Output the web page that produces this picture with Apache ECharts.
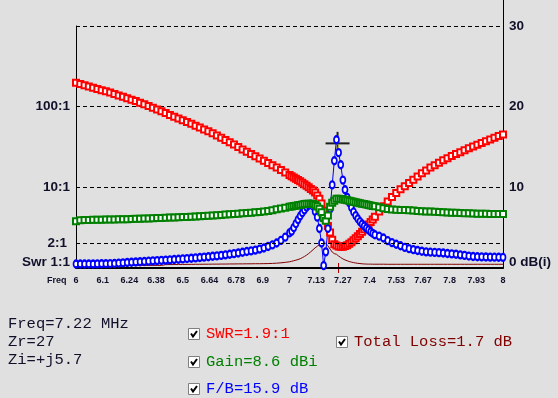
<!DOCTYPE html>
<html><head><meta charset="utf-8">
<script src="https://cdn.jsdelivr.net/npm/echarts@6/dist/echarts.min.js"></script>
<style>html,body{margin:0;padding:0;background:#e0e0e0;}#c{width:558px;height:398px;}</style>
</head><body><div id="c"></div>
<script>
// Frequency samples (MHz)
const freq = [
 6.00,6.02,6.04,6.06,6.08,6.10,6.12,6.14,6.16,6.18,
 6.20,6.22,6.24,6.26,6.28,6.30,6.32,6.34,6.36,6.38,
 6.40,6.42,6.44,6.46,6.48,6.50,6.52,6.54,6.56,6.58,
 6.60,6.62,6.64,6.66,6.68,6.70,6.72,6.74,6.76,6.78,
 6.80,6.82,6.84,6.86,6.88,6.90,6.92,6.94,6.96,6.98,
 7.00,
 7.01,7.02,7.03,7.04,7.05,7.06,7.07,7.08,7.09,7.10,
 7.11,7.12,7.13,7.14,7.15,7.16,7.17,7.18,7.19,7.20,
 7.21,7.22,7.23,7.24,7.25,7.26,7.27,7.28,7.29,7.30,
 7.31,7.32,7.33,7.34,7.35,7.36,7.37,7.38,7.39,7.40,
 7.42,7.44,7.46,7.48,7.50,7.52,7.54,7.56,7.58,7.60,
 7.62,7.64,7.66,7.68,7.70,7.72,7.74,7.76,7.78,7.80,
 7.82,7.84,7.86,7.88,7.90,7.92,7.94,7.96,7.98,8.00
];
// SWR (ratio : 1)
const swr = [
 198.2,190.5,184.1,177.8,171.8,166.0,160.3,154.9,149.6,143.6,
 138.0,132.4,127.4,122.2,117.5,112.2,107.2,101.9,96.8,92.0,
 87.5,83.2,79.1,75.2,71.5,67.9,64.6,61.2,58.1,55.1,
 52.2,49.5,46.8,43.9,41.1,38.5,36.1,33.9,31.6,29.5,
 27.7,25.9,24.3,22.8,21.4,20.0,18.8,17.6,16.4,15.3,
 14.2,
 13.74,13.24,12.76,12.30,11.86,11.38,10.91,10.47,10.0,9.55,
 9.12,8.61,7.94,7.24,6.31,5.13,4.07,3.31,2.75,2.24,
 1.97,1.90,1.85,1.83,1.84,1.87,1.92,2.0,2.09,2.21,
 2.34,2.48,2.63,2.82,3.02,3.24,3.47,3.72,3.98,4.32,
 5.01,5.82,6.68,7.59,8.51,9.44,10.35,11.35,12.45,13.65,
 14.96,16.22,17.58,18.84,20.18,21.63,23.01,24.43,25.82,27.29,
 28.84,30.41,31.99,33.65,35.40,37.15,39.08,41.11,43.15,45.29
];
// Gain (dBi)
const gain = [
 5.8,5.93,5.95,5.96,5.97,5.98,5.99,6.0,6.01,6.02,
 6.03,6.04,6.05,6.07,6.09,6.11,6.13,6.15,6.17,6.19,
 6.21,6.23,6.25,6.27,6.29,6.31,6.33,6.35,6.38,6.41,
 6.44,6.47,6.5,6.54,6.58,6.62,6.66,6.7,6.74,6.78,
 6.82,6.86,6.9,6.95,7.0,7.07,7.17,7.27,7.37,7.48,
 7.58,
 7.62,7.68,7.72,7.77,7.82,7.87,7.92,7.96,7.98,7.98,
 7.92,7.8,7.62,7.35,6.9,6.2,5.85,6.5,7.6,8.1,
 8.35,8.6,8.6,8.56,8.5,8.45,8.4,8.33,8.26,8.2,
 8.14,8.08,8.03,7.98,7.93,7.88,7.82,7.76,7.7,7.64,
 7.52,7.42,7.32,7.26,7.22,7.2,7.18,7.15,7.12,7.08,
 7.04,7.01,6.99,6.97,6.94,6.91,6.88,6.86,6.84,6.82,
 6.8,6.78,6.76,6.74,6.72,6.71,6.7,6.7,6.7,6.7
];
// Front/back ratio (dB)
const fb = [
 0.5,0.5,0.5,0.5,0.5,0.51,0.52,0.53,0.54,0.56,
 0.6,0.64,0.68,0.72,0.75,0.78,0.81,0.85,0.89,0.92,
 0.95,0.98,1.01,1.05,1.09,1.13,1.17,1.21,1.25,1.3,
 1.35,1.4,1.45,1.5,1.56,1.63,1.7,1.78,1.86,1.95,
 2.04,2.12,2.22,2.34,2.48,2.66,2.86,3.1,3.42,3.82,
 4.35,
 4.55,5.0,5.5,6.0,6.45,6.85,7.2,7.55,7.8,7.9,
 7.7,7.0,6.3,4.9,3.1,0.3,2.0,4.9,7.3,10.3,
 13.3,15.9,14.3,12.8,10.9,9.7,8.75,8.1,7.5,6.95,
 6.5,6.1,5.75,5.45,5.2,4.95,4.72,4.5,4.3,4.12,
 3.95,3.72,3.4,3.15,2.95,2.76,2.55,2.4,2.28,2.17,
 2.07,2.0,1.96,1.93,1.9,1.86,1.8,1.75,1.7,1.63,
 1.56,1.48,1.42,1.4,1.38,1.36,1.35,1.34,1.33,1.32
];
// Total loss (dB)
const loss = [
 0.32,0.32,0.32,0.32,0.32,0.32,0.32,0.32,0.32,0.32,
 0.32,0.32,0.32,0.32,0.32,0.32,0.32,0.32,0.32,0.32,
 0.32,0.42,0.43,0.43,0.44,0.44,0.45,0.45,0.46,0.46,
 0.47,0.47,0.48,0.48,0.49,0.49,0.5,0.5,0.51,0.51,
 0.52,0.52,0.53,0.53,0.54,0.55,0.57,0.6,0.64,0.7,
 0.77,
 0.83,0.9,0.97,1.05,1.15,1.28,1.43,1.6,1.8,2.02,
 2.26,2.5,2.7,2.9,3.05,3.13,3.05,2.75,2.35,1.98,
 1.78,1.7,1.48,1.3,1.13,1.0,0.9,0.8,0.73,0.67,
 0.62,0.58,0.55,0.52,0.5,0.49,0.48,0.48,0.47,0.47,
 0.47,0.47,0.46,0.46,0.46,0.46,0.46,0.46,0.46,0.46,
 0.46,0.46,0.46,0.46,0.46,0.46,0.46,0.46,0.46,0.46,
 0.46,0.46,0.46,0.46,0.46,0.46,0.46,0.46,0.46,0.46
];
const xTickLabels = ['6','6.1','6.24','6.38','6.5','6.64','6.78','6.9','7','7.13','7.27','7.4','7.53','7.67','7.8','7.93','8'];
const swrTickLabels = {1:'Swr 1:1', 10:'10:1', 100:'100:1'};
const swrRefLine = 2;
const dbTickLabels = {0:'0 dB(i)', 10:'10', 20:'20', 30:'30'};
const cursorFreq = 7.22;
const cursorMark = [7.225, 15.45];
const readLeft = ['Freq=7.22 MHz','Zr=27','Zi=+j5.7'];
const readSwr = 'SWR=1.9:1', readGain = 'Gain=8.6 dBi', readFb = 'F/B=15.9 dB', readLoss = 'Total Loss=1.7 dB';

const ink = '#10102a';
const chart = echarts.init(document.getElementById('c'));
const pts = arr => freq.map((f, i) => [f, arr[i]]);
const k = freq.indexOf(cursorFreq);
const lblFont = {fontFamily:'"Liberation Sans", Arial, sans-serif', fontWeight:'bold', fontSize:13.5, color:ink};

chart.setOption({
  animation:false,
  backgroundColor:'#e0e0e0',
  grid:{left:76, right:55, top:26, bottom:130},
  xAxis:{type:'value', min:6, max:8, interval:0.125,
    axisLine:{lineStyle:{color:'#000', width:2}}, axisTick:{show:false}, splitLine:{show:false},
    axisLabel:{margin:8, fontFamily:'"Liberation Sans", Arial, sans-serif', fontWeight:'bold', fontSize:9, color:ink,
      formatter:v => xTickLabels[Math.round((v-6)/0.125)] || ''}},
  yAxis:[
    {type:'log', logBase:10, min:1, max:1000, position:'left',
     axisLine:{show:true, lineStyle:{color:'#000', width:1}}, axisTick:{show:false}, splitLine:{show:false},
     axisLabel:Object.assign({margin:6, formatter:v => {const t = swrTickLabels[Math.round(v)]; if(!t) return ''; return Math.round(v)===1 ? '{s|'+t+'}' : t;},
       rich:{s:Object.assign({padding:[0,0,12,0]}, lblFont)}}, lblFont)},
    {type:'value', min:0, max:30, interval:10, position:'right',
     axisLine:{show:true, lineStyle:{color:'#000', width:1}}, axisTick:{show:false},
     splitLine:{show:true, lineStyle:{color:'#000', type:[4,3], width:1}},
     axisLabel:Object.assign({margin:6, formatter:v => {const t = dbTickLabels[v]; if(t===undefined) return ''; return v===0 ? '{s|'+t+'}' : t;},
       rich:{s:Object.assign({padding:[0,0,12,0]}, lblFont)}}, lblFont)}
  ],
  series:[
    {name:'Loss', type:'line', yAxisIndex:1, data:pts(loss), showSymbol:false, symbol:'none',
     lineStyle:{color:'#800000', width:1}, itemStyle:{color:'#800000'}},
    {name:'SWR', type:'line', yAxisIndex:0, data:pts(swr), symbol:'emptyRect', symbolSize:6,
     lineStyle:{color:'#ff0000', width:1}, itemStyle:{color:'#ff0000', borderWidth:1.2},
     markLine:{silent:true, symbol:'none', lineStyle:{color:'#000', type:[4,3], width:1},
       label:{show:true, position:'start', distance:9, formatter:swrRefLine+':1', fontFamily:lblFont.fontFamily, fontWeight:'bold', fontSize:13.5, color:ink},
       data:[{yAxis:swrRefLine}]}},
    {name:'F/B', type:'line', yAxisIndex:1, data:pts(fb), symbol:'emptyCircle', symbolSize:[5,7],
     lineStyle:{color:'#0000ff', width:1}, itemStyle:{color:'#0000ff', borderWidth:1.2}},
    {name:'Gain', type:'line', yAxisIndex:1, data:pts(gain), symbol:'emptyRect', symbolSize:6,
     lineStyle:{color:'#008000', width:1}, itemStyle:{color:'#008000', borderWidth:1.2}}
  ]
});

const px = v => chart.convertToPixel({seriesIndex:2}, v);
const c = px(cursorMark);
const p1 = px([freq[k], fb[k]]), p2 = px([freq[k+1], fb[k+1]]);
const gridRight = px([8, 30]);
const gridBottom = px([6, 0]);
const tickX = px([cursorMark[0], 0])[0];
const mono = '15.5px "Liberation Mono", "Courier New", monospace';
function checkbox(x, y){
  return [
    {type:'rect', shape:{x:x+0.5, y:y+0.5, width:11, height:11}, style:{fill:'#fff', stroke:'#808080', lineWidth:1}},
    {type:'polyline', shape:{points:[[x+3,y+5.5],[x+5,y+8.5],[x+9,y+3]]}, style:{stroke:'#000', lineWidth:2, fill:null}}
  ];
}
const txt = (x, y, s, color) => ({type:'text', x:x, y:y, style:{text:s, font:mono, fill:color, textVerticalAlign:'middle', verticalAlign:'middle'}});
chart.setOption({graphic:[
  {type:'line', shape:{x1:Math.round(gridRight[0])+0.5, y1:0, x2:Math.round(gridRight[0])+0.5, y2:gridRight[1]}, style:{stroke:'#000', lineWidth:1}},
  {type:'text', x:47, y:gridBottom[1]+13, style:{text:'Freq', font:'bold 9px "Liberation Sans", Arial, sans-serif', fill:ink, verticalAlign:'middle'}},
  {type:'line', shape:{x1:Math.round(tickX)+0.5, y1:gridBottom[1]-5, x2:Math.round(tickX)+0.5, y2:gridBottom[1]+5}, style:{stroke:'#b00000', lineWidth:1}},
  {type:'rect', shape:{x:c[0]-12, y:c[1]-1, width:24, height:2}, style:{fill:'#202020'}},
  {type:'rect', shape:{x:c[0]-1, y:c[1]-11.5, width:2, height:23}, style:{fill:'#202020'}},
  {type:'line', shape:{x1:p1[0], y1:p1[1], x2:p2[0], y2:p2[1]}, style:{stroke:'#ffff00', lineWidth:2}},
  txt(8, 324, readLeft[0], ink),
  txt(8, 342, readLeft[1], ink),
  txt(8, 360, readLeft[2], ink),
  ...checkbox(188, 328), txt(206, 334, readSwr, '#ff0000'),
  ...checkbox(188, 356), txt(206, 361.5, readGain, '#008000'),
  ...checkbox(188, 383), txt(206, 388.5, readFb, '#0000ff'),
  ...checkbox(336, 336), txt(354, 341.5, readLoss, '#800000')
]});
</script></body></html>
